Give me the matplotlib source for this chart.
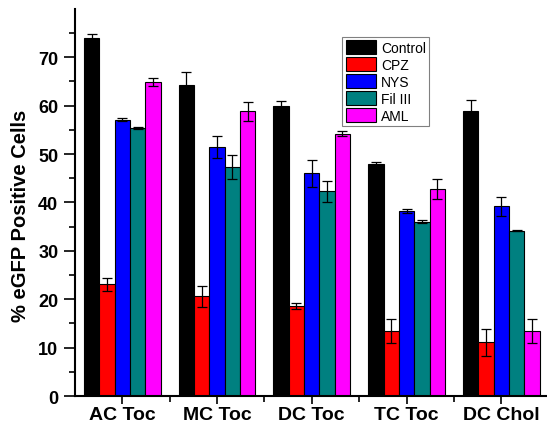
import numpy as np
import matplotlib.pyplot as plt

plt.rcParams['font.family'] = ['Liberation Sans', 'DejaVu Sans']

groups = ['AC Toc', 'MC Toc', 'DC Toc', 'TC Toc', 'DC Chol']
series = ['Control', 'CPZ', 'NYS', 'Fil III', 'AML']
colors = ['#000000', '#ff0000', '#0000ff', '#008080', '#ff00ff']

control = [74.0, 64.2, 60.0, 47.9, 58.9]
cpz = [23.1, 20.6, 18.6, 13.4, 11.1]
nys = [57.1, 51.5, 46.0, 38.2, 39.2]
fil3 = [55.3, 47.3, 42.3, 36.0, 34.2]
aml = [64.9, 58.8, 54.2, 42.8, 13.5]

control_err = [0.7, 2.7, 0.9, 0.4, 2.2]
cpz_err = [1.4, 2.1, 0.7, 2.5, 2.8]
nys_err = [0.3, 2.3, 2.8, 0.4, 1.9]
fil3_err = [0.2, 2.5, 2.2, 0.3, 0.1]
aml_err = [0.9, 2.0, 0.5, 2.0, 2.5]

values = [control, cpz, nys, fil3, aml]
errors = [control_err, cpz_err, nys_err, fil3_err, aml_err]

fig = plt.figure(figsize=(5.47, 4.27), dpi=100)
ax = fig.add_axes([0.137, 0.07, 0.866, 0.907])

x = np.arange(1, len(groups) + 1)
w = 0.162
for i, (vals, errs) in enumerate(zip(values, errors)):
    pos = x + (i - 2) * w
    ax.bar(pos, vals, width=w, color=colors[i], edgecolor='black',
           linewidth=0.8, label=series[i])
    ax.errorbar(pos, vals, yerr=errs, fmt='none', ecolor='black',
                elinewidth=0.9, capsize=3.5, capthick=0.9)

ax.set_xlim(0.5, 5.5)
ax.set_ylim(0, 80)
ax.set_yticks(np.arange(0, 80, 10))
ax.set_yticks(np.arange(5, 80, 10), minor=True)
ax.set_xticks(x)
ax.set_xticks(x[:-1] + 0.5, minor=True)
ax.set_xticklabels(groups, fontsize=14, fontweight='bold')
for lab in ax.get_yticklabels():
    lab.set_fontsize(13)
    lab.set_fontweight('bold')

ax.tick_params(axis='y', which='major', length=8, width=1.2, direction='out', pad=4)
ax.tick_params(axis='y', which='minor', length=4, width=1.2, direction='out')
ax.tick_params(axis='x', which='major', length=6, width=1.2, direction='out', pad=1)
ax.tick_params(axis='x', which='minor', length=4, width=1.2, direction='out')

for s in ['top', 'right']:
    ax.spines[s].set_visible(False)
for s in ['left', 'bottom']:
    ax.spines[s].set_linewidth(1.5)

ax.set_ylabel('% eGFP Positive Cells', fontsize=14.5, fontweight='bold')
ax.yaxis.set_label_coords(-0.095, 0.468)

leg = ax.legend(loc='upper left', bbox_to_anchor=(0.564, 0.928), borderaxespad=0,
                fontsize=10, handlelength=2.2, handleheight=1.2, handletextpad=0.35,
                labelspacing=0.15, borderpad=0.25, fancybox=False,
                edgecolor='gray', framealpha=1)
leg.get_frame().set_linewidth(0.8)

fig.savefig('out.png', dpi=100)
